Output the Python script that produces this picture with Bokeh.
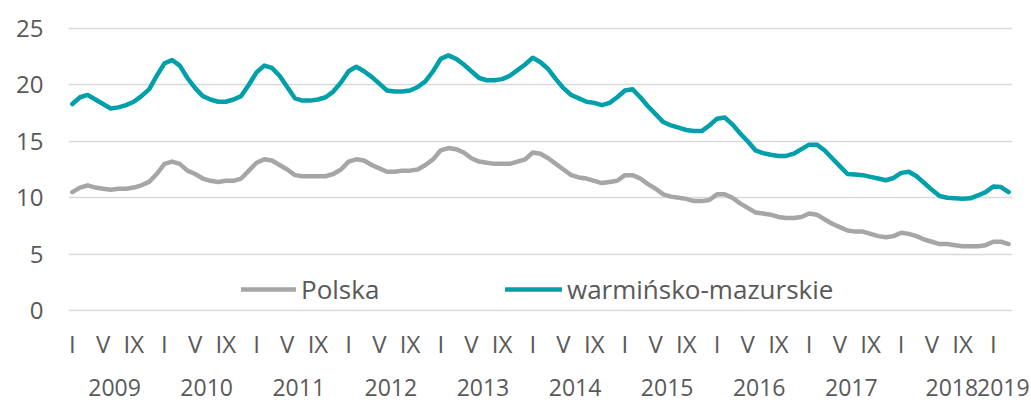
from bokeh.plotting import figure
from bokeh.models import Range1d, FixedTicker, LinearAxis, Legend, LegendItem
from bokeh.embed import file_html
from bokeh.resources import INLINE

# ---- data -------------------------------------------------------------
years = ["2009", "2010", "2011", "2012", "2013", "2014", "2015", "2016", "2017", "2018", "2019"]
month_labels = ["I", "V", "IX"]          # ticks at months 1, 5, 9
y_ticks = [0, 5, 10, 15, 20, 25]

polska = [
    10.5, 10.9, 11.1, 10.9, 10.8, 10.7, 10.8, 10.8, 10.9, 11.1, 11.4, 12.1,   # 2009
    13.0, 13.2, 13.0, 12.4, 12.1, 11.7, 11.5, 11.4, 11.5, 11.5, 11.7, 12.4,   # 2010
    13.1, 13.4, 13.3, 12.9, 12.5, 12.0, 11.9, 11.9, 11.9, 11.9, 12.1, 12.5,   # 2011
    13.2, 13.4, 13.3, 12.9, 12.6, 12.3, 12.3, 12.4, 12.4, 12.5, 12.9, 13.4,   # 2012
    14.2, 14.4, 14.3, 14.0, 13.5, 13.2, 13.1, 13.0, 13.0, 13.0, 13.2, 13.4,   # 2013
    14.0, 13.9, 13.5, 13.0, 12.5, 12.0, 11.8, 11.7, 11.5, 11.3, 11.4, 11.5,   # 2014
    12.0, 12.0, 11.7, 11.2, 10.8, 10.3, 10.1, 10.0, 9.9, 9.7, 9.7, 9.8,       # 2015
    10.3, 10.3, 10.0, 9.5, 9.1, 8.7, 8.6, 8.5, 8.3, 8.2, 8.2, 8.3,            # 2016
    8.6, 8.5, 8.1, 7.7, 7.4, 7.1, 7.0, 7.0, 6.8, 6.6, 6.5, 6.6,               # 2017
    6.9, 6.8, 6.6, 6.3, 6.1, 5.9, 5.9, 5.8, 5.7, 5.7, 5.7, 5.8,               # 2018
    6.1, 6.1, 5.9,                                                            # 2019
]

warminsko_mazurskie = [
    18.3, 18.9, 19.1, 18.7, 18.3, 17.9, 18.0, 18.2, 18.5, 19.0, 19.6, 20.8,   # 2009
    21.9, 22.2, 21.7, 20.6, 19.7, 19.0, 18.7, 18.5, 18.5, 18.7, 19.0, 20.0,   # 2010
    21.1, 21.7, 21.5, 20.8, 19.8, 18.8, 18.6, 18.6, 18.7, 18.9, 19.4, 20.2,   # 2011
    21.2, 21.6, 21.2, 20.7, 20.1, 19.5, 19.4, 19.4, 19.5, 19.8, 20.3, 21.2,   # 2012
    22.3, 22.6, 22.3, 21.8, 21.2, 20.6, 20.4, 20.4, 20.5, 20.8, 21.3, 21.8,   # 2013
    22.4, 22.0, 21.4, 20.5, 19.7, 19.1, 18.8, 18.5, 18.4, 18.2, 18.4, 18.9,   # 2014
    19.5, 19.6, 18.9, 18.1, 17.4, 16.7, 16.4, 16.2, 16.0, 15.9, 15.9, 16.4,   # 2015
    17.0, 17.1, 16.5, 15.7, 15.0, 14.2, 13.95, 13.8, 13.7, 13.7, 13.9, 14.3,  # 2016
    14.7, 14.7, 14.2, 13.5, 12.8, 12.1, 12.05, 12.0, 11.85, 11.7, 11.55, 11.75,  # 2017
    12.2, 12.3, 11.9, 11.3, 10.7, 10.15, 10.0, 9.95, 9.9, 9.95, 10.2, 10.5,   # 2018
    11.0, 10.95, 10.5,                                                        # 2019
]

series_names = ["Polska", "warmińsko-mazurskie"]

# ---- style ------------------------------------------------------------
FONT = "Open Sans"
TXT = "#595959"
GREY = "#A6A6A6"
TEAL = "#00A0AA"

n = len(polska)
x = list(range(n))

p = figure(
    width=1031, height=403,
    output_backend="svg", toolbar_location=None,
    x_range=Range1d(-0.5, n - 0.5),
    y_range=Range1d(-0.25, 25.25),
    min_border_left=68, min_border_right=19,
    min_border_top=25, min_border_bottom=90,
)
p.outline_line_color = None
p.background_fill_color = "white"
p.border_fill_color = "white"

# y axis
p.yaxis.ticker = FixedTicker(ticks=y_ticks)
p.yaxis.axis_line_color = None
p.yaxis.major_tick_line_color = None
p.yaxis.minor_tick_line_color = None
p.yaxis.major_tick_out = 0
p.yaxis.major_label_standoff = 25
p.yaxis.major_label_text_font = FONT
p.yaxis.major_label_text_font_size = "24px"
p.yaxis.major_label_text_color = TXT

p.ygrid.grid_line_color = "#D9D9D9"
p.ygrid.grid_line_width = 1.5
p.xgrid.grid_line_color = None

# x axis: months
month_ticks = [i for i in range(n) if i % 12 in (0, 4, 8)]
month_over = {i: month_labels[(i % 12) // 4] for i in month_ticks}
xa = p.xaxis[0]
xa.ticker = FixedTicker(ticks=month_ticks)
xa.major_label_overrides = month_over
xa.axis_line_color = None
xa.major_tick_line_color = None
xa.minor_tick_line_color = None
xa.major_tick_out = 0
xa.major_label_standoff = 13
xa.major_label_text_font = FONT
xa.major_label_text_font_size = "24px"
xa.major_label_text_color = TXT

# x axis: years (group centres; last two nudged apart as in the original)
year_pos = []
for k in range(len(years)):
    cnt = min(12, n - 12 * k)
    year_pos.append(12 * k + (cnt - 1) / 2)
year_pos[-2] = 114.6
year_pos[-1] = 121.3
year_over = {pos: lab for pos, lab in zip(year_pos, years)}
ya = LinearAxis(ticker=FixedTicker(ticks=year_pos), major_label_overrides=year_over)
ya.axis_line_color = None
ya.major_tick_line_color = None
ya.minor_tick_line_color = None
ya.major_tick_out = 0
ya.major_label_standoff = 16
ya.major_label_text_font = FONT
ya.major_label_text_font_size = "23px"
ya.major_label_text_color = TXT
p.add_layout(ya, "below")

# lines
r1 = p.line(x, polska, line_color=GREY, line_width=4.5, line_cap="round", line_join="round")
r2 = p.line(x, warminsko_mazurskie, line_color=TEAL, line_width=4.5, line_cap="round", line_join="round")

def make_legend(label, rend, loc, gw):
    lg = Legend(items=[LegendItem(label=label, renderers=[rend])], location=loc,
                orientation="horizontal", glyph_width=gw, glyph_height=20,
                label_standoff=5, padding=0, margin=0, spacing=0,
                border_line_color=None, background_fill_alpha=0,
                label_text_font=FONT, label_text_font_size="26px",
                label_text_color=TXT)
    return lg

p.add_layout(make_legend(series_names[0], r1, (173, 6), 55), "center")
p.add_layout(make_legend(series_names[1], r2, (437, 6), 57), "center")

open("out.html", "w").write(file_html(p, INLINE))
